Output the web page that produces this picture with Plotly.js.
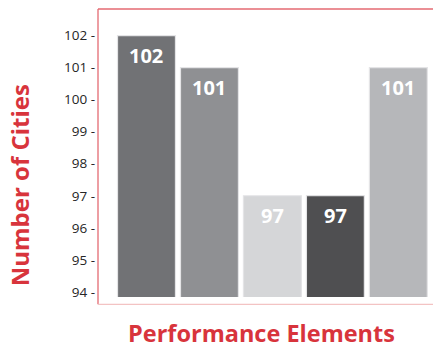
<!DOCTYPE html>
<html>
<head>
<meta charset="utf-8">
<script src="https://cdn.plot.ly/plotly-3.0.1.min.js"></script>
<style>
  html, body { margin: 0; padding: 0; background: #ffffff; }
  #chart { width: 433px; height: 350px; }
</style>
</head>
<body>
<div id="chart"></div>
<script>
// Number of cities reporting each performance element
const categories = ['E1', 'E2', 'E3', 'E4', 'E5'];
const cityCounts = [102, 101, 97, 97, 101];
const barColors = ['#717275', '#8f9093', '#d5d6d8', '#4f4f51', '#b6b7ba'];
const yTickValues = [94, 95, 96, 97, 98, 99, 100, 101, 102];

const FONT = 'Open Sans, Lato, sans-serif';
const RED = '#d8343c';

const bars = {
  type: 'bar',
  x: categories,
  y: cityCounts,
  marker: {
    color: barColors,
    line: { color: '#e4e4e6', width: 1.2 }
  },
  hoverinfo: 'skip',
  showlegend: false
};

// value labels sit inside the top of each bar
const valueLabels = categories.map((c, i) => ({
  x: c,
  y: cityCounts[i],
  xref: 'x',
  yref: 'y',
  text: '<b>' + cityCounts[i] + '</b>',
  showarrow: false,
  yanchor: 'top',
  yshift: -4,
  font: { family: FONT, size: 20, color: '#ffffff' }
}));

const layout = {
  width: 433,
  height: 350,
  margin: { l: 98, r: 0, t: 9, b: 53 },
  paper_bgcolor: '#ffffff',
  plot_bgcolor: '#ffffff',
  bargap: 0.08,
  xaxis: {
    type: 'category',
    range: [-0.77, 4.55],
    showticklabels: false,
    showgrid: false,
    zeroline: false,
    showline: false,
    ticks: '',
    fixedrange: true
  },
  yaxis: {
    range: [93.84, 102.83],
    tickvals: yTickValues,
    ticktext: yTickValues.map(v => v + ' -'),
    ticks: '',
    ticklabelstandoff: 2,
    showgrid: false,
    zeroline: false,
    showline: false,
    tickfont: { family: FONT, size: 13.5, color: '#262626' },
    fixedrange: true
  },
  annotations: valueLabels.concat([
    {
      x: -0.232,
      y: 0.389,
      xref: 'paper',
      yref: 'paper',
      xanchor: 'center',
      yanchor: 'middle',
      textangle: -90,
      text: '<b>Number of Cities</b>',
      showarrow: false,
      font: { family: FONT, size: 24, color: RED }
    },
    {
      x: 0.4866,
      y: -0.184,
      xref: 'paper',
      yref: 'paper',
      xanchor: 'center',
      yanchor: 'bottom',
      borderpad: 0,
      text: '<b>Performance Elements</b>',
      showarrow: false,
      font: { family: FONT, size: 23.5, color: RED }
    }
  ]),
  shapes: [
    // frame: left and top in red, bottom in light pink
    { type: 'line', xref: 'paper', yref: 'paper', x0: 0, x1: 0, y0: -0.0254, y1: 1,
      line: { color: '#e46a72', width: 1.3 } },
    { type: 'line', xref: 'paper', yref: 'paper', x0: 0, x1: 1, y0: 1, y1: 1,
      line: { color: '#e46a72', width: 1.3 } },
    { type: 'line', xref: 'paper', yref: 'paper', x0: 0, x1: 1, y0: -0.0254, y1: -0.0254,
      line: { color: '#f3c3c3', width: 1.3 } }
  ]
};

Plotly.newPlot('chart', [bars], layout, { displayModeBar: false, staticPlot: true });
</script>
</body>
</html>
